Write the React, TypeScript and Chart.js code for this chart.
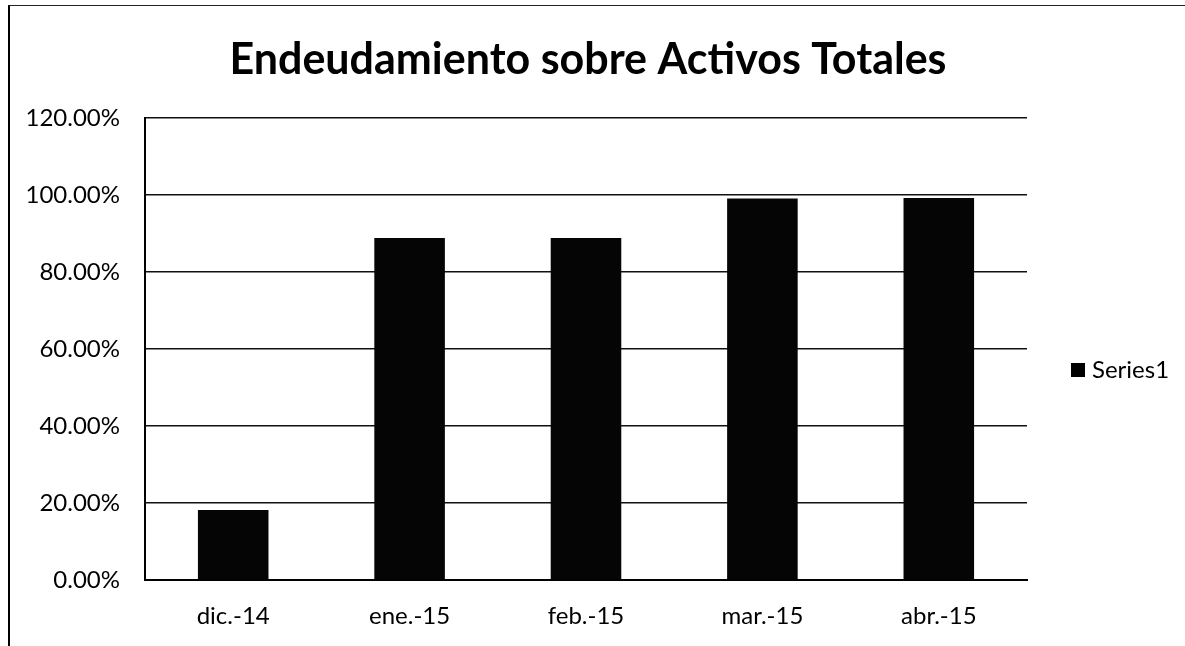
import React, { useEffect, useRef } from "react";
import { Chart, registerables } from "chart.js";

Chart.register(...registerables);

const TITLE = "Endeudamiento sobre Activos Totales";
const CATEGORIES = ["dic.-14", "ene.-15", "feb.-15", "mar.-15", "abr.-15"];
const SERIES_LABEL = "Series1";
const SERIES_VALUES = [18.2, 88.8, 88.8, 99.1, 99.2];
const Y_MIN = 0;
const Y_MAX = 120;
const Y_STEP = 20;

const FONT = "Lato, 'Open Sans', sans-serif";

const decorPlugin = {
  id: "decor",
  afterDraw(chart: any) {
    const ctx = chart.ctx;
    const ds = chart.data.datasets[0];
    ctx.save();
    // title
    ctx.fillStyle = "#000";
    ctx.font = `bold 43px ${FONT}`;
    ctx.textBaseline = "middle";
    ctx.textAlign = "center";
    ctx.fillText(TITLE, 588, 60);
    // legend
    ctx.fillRect(1071, 363, 14, 14);
    ctx.font = `24px ${FONT}`;
    ctx.textAlign = "left";
    ctx.fillText(ds.label, 1092, 370);
    ctx.restore();
  },
};

export default function App() {
  const ref = useRef<HTMLCanvasElement | null>(null);
  useEffect(() => {
    if (!ref.current) return;
    const chart = new Chart(ref.current, {
      type: "bar",
      data: {
        labels: CATEGORIES,
        datasets: [
          {
            label: SERIES_LABEL,
            data: SERIES_VALUES,
            backgroundColor: "#050505",
            borderWidth: 0,
            barPercentage: 0.4,
            categoryPercentage: 1,
          },
        ],
      },
      options: {
        animation: false,
        responsive: false,
        devicePixelRatio: 1,
        layout: { padding: { left: 0, right: 158, top: 118, bottom: 0 } },
        plugins: {
          legend: { display: false },
          tooltip: { enabled: false },
          title: { display: false },
        },
        scales: {
          x: {
            grid: { display: false, drawTicks: false },
            border: { display: true, color: "#000", width: 2 },
            ticks: {
              color: "#000",
              font: { family: FONT, size: 24 },
              padding: 22,
              maxRotation: 0,
            },
            afterFit: (s: any) => {
              s.height = 66;
            },
          },
          y: {
            min: Y_MIN,
            max: Y_MAX,
            grid: { color: "#111", lineWidth: 1.5, drawTicks: false },
            border: { display: true, color: "#000", width: 2 },
            ticks: {
              stepSize: Y_STEP,
              color: "#000",
              font: { family: FONT, size: 24 },
              padding: 25,
              callback: (v: any) => Number(v).toFixed(2) + "%",
            },
            afterFit: (s: any) => {
              s.width = 145;
            },
          },
        },
      },
      plugins: [decorPlugin],
    });
    return () => chart.destroy();
  }, []);

  return (
    <div style={{ position: "fixed", left: 0, top: 0, width: 1185, height: 646, background: "#fff" }}>
      <canvas ref={ref} width={1185} height={646} style={{ display: "block" }} />
      <div
        style={{
          position: "absolute",
          left: 8,
          top: 5,
          width: 1177,
          height: 641,
          borderLeft: "2px solid #000",
          borderTop: "1px solid #222",
          pointerEvents: "none",
        }}
      />
    </div>
  );
}
